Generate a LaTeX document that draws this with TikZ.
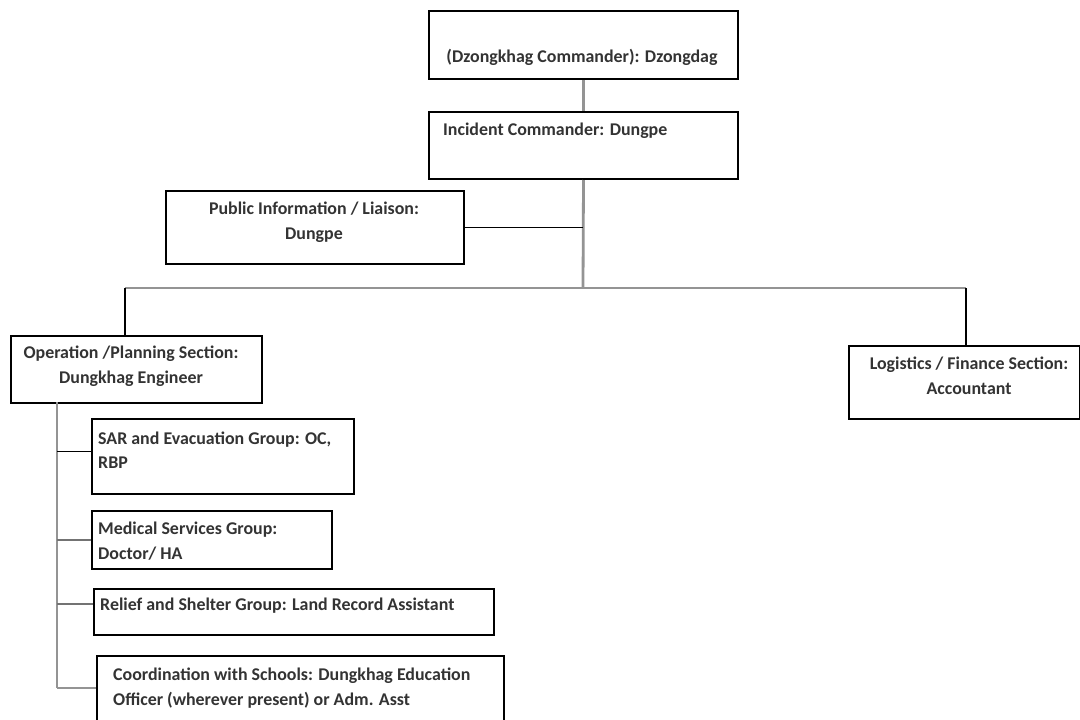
\documentclass[tikz,border=0pt]{standalone}
\usepackage{fontspec}
\setmainfont{Carlito}
\begin{document}
\begin{tikzpicture}[x=1pt,y=-1pt,
  box/.style={draw=black,line width=2pt,anchor=north west,inner sep=0pt,fill=none},
  txt/.style={font=\fontsize{17.9}{24.5}\selectfont\bfseries,inner sep=0pt,text=black!80},
  trunk/.style={draw=black!42,line width=2.8pt},
  thin/.style={draw=black,line width=1.2pt},
  thing/.style={draw=black!55,line width=1.4pt}]
\clip (0,0) rectangle (1080,720);
\fill[white] (0,0) rectangle (1080,720);
% boxes
\node[box,minimum width=309pt,minimum height=68pt] (dz) at (428,10) {};
\node[box,minimum width=309pt,minimum height=67pt] (ic) at (428,111) {};
\node[box,minimum width=298pt,minimum height=73pt] (pi) at (165,190) {};
\node[box,minimum width=251pt,minimum height=67pt] (op) at (10,335) {};
\node[box,minimum width=231pt,minimum height=73pt] (lg) at (848,345) {};
\node[box,minimum width=262pt,minimum height=75pt] (sar) at (91,418) {};
\node[box,minimum width=240pt,minimum height=58pt] (med) at (91,510) {};
\node[box,minimum width=400pt,minimum height=46pt] (rel) at (93,588) {};
\node[box,minimum width=407pt,minimum height=80pt] (co) at (96,655) {};
% texts
\node[txt] (dzt) at (582,57) {(Dzongkhag Commander): Dzongdag};
\node[txt,anchor=west] (ict) at (443,131) {Incident Commander: Dungpe};
\node[txt,align=center] (pit) at (314,222) {Public Information / Liaison:\\Dungpe};
\node[txt,align=center] (opt) at (131,366) {Operation /Planning Section:\\Dungkhag Engineer};
\node[txt,align=center] (lgt) at (969,376) {Logistics / Finance Section:\\Accountant};
\node[txt,align=left,anchor=west] (sart) at (98,450) {SAR and Evacuation Group: OC,\\RBP};
\node[txt,align=left,anchor=west] (medt) at (98,541) {Medical Services Group:\\Doctor/ HA};
\node[txt,anchor=west] (relt) at (100,606) {Relief and Shelter Group: Land Record Assistant};
\node[txt,align=left,anchor=west] (cot) at (113,688) {Coordination with Schools: Dungkhag Education\\Officer (wherever present) or Adm. Asst};
% connectors
\coordinate (bar) at (583,288);
\coordinate (lb) at (125,288);
\coordinate (rb) at (966,288);
\coordinate (lv) at (57,402);
\coordinate (lvend) at (57,688);
\draw[trunk] (dz.south) -- (ic.north);
\draw[trunk] (ic.south) -- (bar);
\draw[trunk] (lb) -- (rb);
\draw[thin] (pi.east) -- (pi.east -| bar);
\draw[thin] (lb) -- (lb |- op.north);
\draw[thin] (rb) -- (rb |- lg.north);
\draw[trunk] (lv) -- (lvend);
\draw[thin] ([yshift=5pt]sar.west) -- ([yshift=5pt]sar.west -| lv);
\draw[thing] (med.west) -- (med.west -| lv);
\draw[thing] ([yshift=8pt]rel.west) -- ([yshift=8pt]rel.west -| lv);
\draw[trunk] (lvend) -- (lvend -| co.west);
\end{tikzpicture}
\end{document}
